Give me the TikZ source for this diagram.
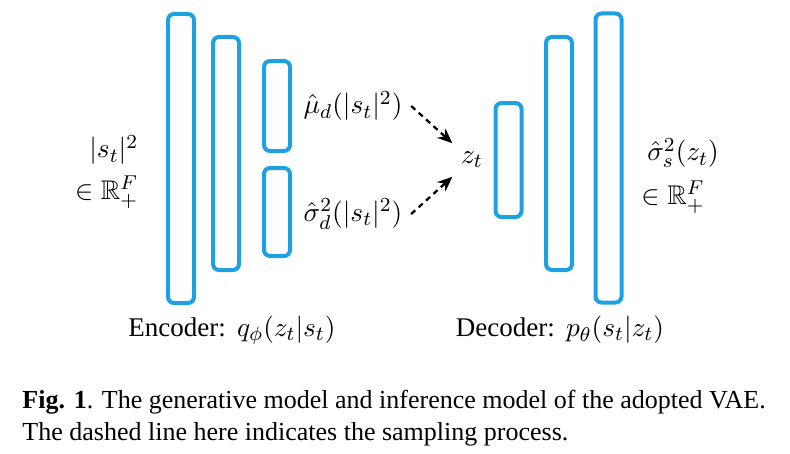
\documentclass[tikz,border=0pt]{standalone}
\usepackage{amsmath}
\usepackage{amssymb}
\usepackage{fontspec}
\setmainfont{Liberation Serif}
\usetikzlibrary{positioning,arrows.meta}
\definecolor{layerblue}{RGB}{29,161,226}

\begin{document}
\begin{tikzpicture}[
    x=0.4pt, y=-0.4pt,
    font=\fontsize{10.8}{13}\selectfont,
    layer/.style={draw=layerblue, line width=1.6pt, rounded corners=2.4pt,
                  minimum width=10.4pt, inner sep=0pt},
    sample/.style={-{Stealth[length=6pt, width=5pt]}, line width=0.9pt,
                   dash pattern=on 2.2pt off 1.8pt},
    caption/.style={anchor=base west, inner sep=0pt,
                    font=\fontsize{10.4}{12.8}\selectfont},
  ]
  \useasboundingbox (0,0) rectangle (790,453);

  % ---------- encoder: input and layers ----------
  \node[anchor=east] (inp) at (147,150) {$|s_t|^2$};
  \node[anchor=east] (inpdom) at (147,192) {$\in\mathbb{R}_+^F$};

  \node[layer, minimum height=115.6pt] (enc1) at (181,158.5) {};
  \node[layer, minimum height=93.2pt] (enc2) at (226,153.5) {};
  \node[layer, minimum height=36pt] (encmu) at (277,106) {};
  \node[layer, minimum height=35.2pt] (encsig) at (277,212) {};

  \node (mu) at (353,106) {$\hat{\mu}_d(|s_t|^2)$};
  \node (sig) at (353,214) {$\hat{\sigma}_d^2(|s_t|^2)$};

  % ---------- sampling of the latent ----------
  \node (zt) at (472,160) {$z_t$};
  \draw[sample] (mu.east) -- (zt.north west);
  \draw[sample] (sig.east) -- (zt.south west);

  % ---------- decoder: layers and output ----------
  \node[layer, minimum height=45.6pt] (dec1) at (508.5,160) {};
  \node[layer, minimum height=93.2pt] (dec2) at (559,153.5) {};
  \node[layer, minimum height=115.6pt] (dec3) at (608.5,158) {};

  \node (out) at (683,153) {$\hat{\sigma}_s^2(z_t)$};
  \node (outdom) at (673,197) {$\in\mathbb{R}_+^F$};

  % ---------- model names ----------
  \node (enclab) at (232,330) {Encoder:\ \,$q_\phi(z_t|s_t)$};
  \node (declab) at (560,330) {Decoder:\ \,$p_\theta(s_t|z_t)$};

  % ---------- caption ----------
  \node[caption] (cap1) at (22,408)
    {\textbf{Fig. 1}. The generative model and inference model of the adopted VAE.};
  \node[caption] (cap2) at (22,440)
    {The dashed line here indicates the sampling process.};

\end{tikzpicture}
\end{document}
